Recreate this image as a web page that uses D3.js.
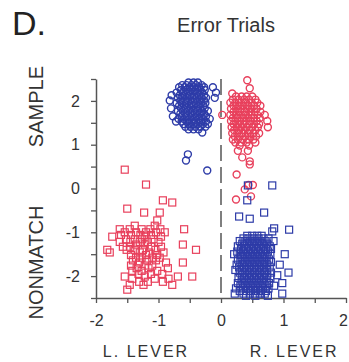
<!DOCTYPE html>
<html>
<head>
<meta charset="utf-8">
<script src="https://cdn.jsdelivr.net/npm/d3@7"></script>
<style>
  body { margin: 0; background: #fff; }
  text { font-family: "Liberation Sans", Arial, sans-serif; }
</style>
</head>
<body>
<div id="chart"></div>
<script>
// panel text
var panelLabel = "D.";
var panelTitle = "Error Trials";
var leverLabels = ["L. LEVER", "R. LEVER"];
var phaseLabels = ["SAMPLE", "NONMATCH"];

// ticks
var xTicks = [-2, -1.5, -1, -0.5, 0, 0.5, 1, 1.5, 2];
var yTicks = [-2.5, -2, -1.5, -1, -0.5, 0, 0.5, 1, 1.5, 2, 2.5];

// sample phase, left lever (blue circles) - rows: [y, [x, x, ...]]
var blueCircleRows = [
  [2.42, [-0.52, -0.44, -0.37]],
  [2.36, [-0.62, -0.55, -0.47, -0.4, -0.31]],
  [2.31, [-0.67, -0.58, -0.5, -0.43, -0.35, -0.27, -0.13]],
  [2.25, [-0.64, -0.56, -0.48, -0.41, -0.33, -0.26]],
  [2.19, [-0.71, -0.61, -0.53, -0.45, -0.38, -0.3, -0.08]],
  [2.13, [-0.79, -0.66, -0.58, -0.5, -0.43, -0.35, -0.27]],
  [2.07, [-0.69, -0.62, -0.54, -0.46, -0.39, -0.31, -0.24, -0.1]],
  [2.01, [-0.82, -0.65, -0.57, -0.49, -0.42, -0.34, -0.27]],
  [1.95, [-0.71, -0.63, -0.55, -0.47, -0.4, -0.32, -0.25]],
  [1.89, [-0.67, -0.59, -0.51, -0.44, -0.36, -0.28]],
  [1.83, [-0.8, -0.64, -0.56, -0.48, -0.4, -0.33, -0.26]],
  [1.77, [-0.69, -0.61, -0.53, -0.45, -0.38, -0.3, -0.21]],
  [1.71, [-0.65, -0.57, -0.49, -0.42, -0.34, -0.27]],
  [1.65, [-0.77, -0.63, -0.55, -0.47, -0.39, -0.31, -0.24]],
  [1.59, [-0.68, -0.6, -0.52, -0.44, -0.36, -0.29, -0.18]],
  [1.53, [-0.72, -0.63, -0.55, -0.47, -0.4, -0.32, -0.24]],
  [1.47, [-0.6, -0.52, -0.44, -0.37, -0.29, -0.21]],
  [1.41, [-0.57, -0.49, -0.41, -0.33, -0.25]],
  [1.35, [-0.52, -0.44, -0.36]],
  [1.28, [-0.3]],
  [0.78, [-0.53]],
  [0.64, [-0.56]],
  [0.41, [-0.22]]
];

// sample phase, right lever (red circles)
var redCircleRows = [
  [2.47, [0.42]],
  [2.29, [0.46]],
  [2.17, [0.18]],
  [2.1, [0.24, 0.33, 0.41, 0.5]],
  [2.03, [0.19, 0.28, 0.37, 0.45, 0.55]],
  [1.96, [0.15, 0.23, 0.32, 0.4, 0.49, 0.58]],
  [1.89, [0.2, 0.28, 0.36, 0.44, 0.53, 0.63]],
  [1.82, [0.16, 0.24, 0.32, 0.41, 0.49, 0.57]],
  [1.75, [0.2, 0.28, 0.37, 0.45, 0.54, 0.63]],
  [1.68, [0.02, 0.15, 0.24, 0.32, 0.4, 0.49, 0.58, 0.7]],
  [1.61, [0.19, 0.27, 0.36, 0.44, 0.53, 0.62]],
  [1.54, [0.16, 0.23, 0.31, 0.4, 0.48, 0.57, 0.74]],
  [1.47, [0.2, 0.28, 0.36, 0.45, 0.53, 0.61]],
  [1.4, [0.17, 0.25, 0.33, 0.41, 0.5, 0.59, 0.75]],
  [1.33, [0.21, 0.29, 0.38, 0.46, 0.55]],
  [1.26, [0.18, 0.26, 0.34, 0.43, 0.52, 0.61]],
  [1.19, [0.22, 0.3, 0.39, 0.47, 0.56]],
  [1.12, [0.19, 0.27, 0.35, 0.44, 0.52]],
  [1.05, [0.23, 0.32, 0.41, 0.55]],
  [0.98, [0.3, 0.45]],
  [0.86, [0.27, 0.43]],
  [0.71, [0.34]],
  [0.62, [0.46]],
  [0.55, [0.46]],
  [0.32, [0.25]],
  [0.08, [0.44, 0.51]],
  [-0.02, [0.38]],
  [-0.18, [0.48]],
  [-0.25, [0.24]]
];

// nonmatch phase, left lever (red squares)
var redSquareRows = [
  [0.43, [-1.54]],
  [0.09, [-1.2]],
  [-0.27, [-0.93]],
  [-0.32, [-0.78]],
  [-0.46, [-1.5]],
  [-0.55, [-1.23, -0.98]],
  [-0.73, [-1.02]],
  [-0.85, [-1.38, -1.06]],
  [-0.93, [-1.62, -1.46, -1.27, -1.13, -0.97, -0.59]],
  [-1.0, [-1.54, -1.36, -1.2, -1.04, -0.9]],
  [-1.06, [-1.6, -1.44, -1.29, -1.12]],
  [-1.1, [-1.74, -1.22, -0.96]],
  [-1.16, [-1.52, -1.38, -1.26, -1.08]],
  [-1.22, [-1.62, -1.45, -1.3, -1.17, -1.0]],
  [-1.28, [-1.36, -1.22, -0.61]],
  [-1.33, [-1.57, -1.45, -1.12, -0.96]],
  [-1.4, [-1.82, -1.51, -1.38, -1.25, -1.05, -0.4]],
  [-1.46, [-1.78, -1.3, -1.15, -0.92]],
  [-1.52, [-1.44, -1.2, -1.02]],
  [-1.58, [-1.36, -1.27, -1.1, -0.98]],
  [-1.64, [-1.41, -1.18, -1.04]],
  [-1.69, [-1.31, -0.88, -0.61]],
  [-1.76, [-1.44, -1.22, -1.1]],
  [-1.82, [-1.35, -1.16, -0.85]],
  [-1.88, [-1.42, -1.27, -1.02]],
  [-1.95, [-1.32, -1.12, -0.94]],
  [-2.01, [-1.54, -1.22, -0.69, -0.46]],
  [-2.06, [-1.42, -1.06, -0.84]],
  [-2.13, [-1.31, -1.17, -0.93]],
  [-2.2, [-1.46, -1.24, -0.78]],
  [-2.31, [-1.5]]
];

// nonmatch phase, right lever (blue squares)
var blueSquareRows = [
  [0.07, [0.43, 0.82]],
  [-0.27, [0.42]],
  [-0.55, [0.69]],
  [-0.64, [0.29]],
  [-0.69, [0.46]],
  [-0.91, [0.85]],
  [-0.94, [1.09]],
  [-0.98, [0.82]],
  [-1.08, [0.42, 0.5, 0.58, 0.65]],
  [-1.14, [0.36, 0.44, 0.52, 0.6, 0.68, 0.76]],
  [-1.2, [0.3, 0.39, 0.47, 0.55, 0.63, 0.71, 0.84]],
  [-1.26, [0.34, 0.42, 0.5, 0.58, 0.66, 0.74]],
  [-1.32, [0.27, 0.37, 0.45, 0.53, 0.61, 0.69, 0.78]],
  [-1.38, [0.32, 0.4, 0.48, 0.56, 0.64, 0.72, 0.8]],
  [-1.44, [0.26, 0.35, 0.43, 0.51, 0.59, 0.67, 0.75]],
  [-1.5, [0.21, 0.3, 0.38, 0.46, 0.54, 0.62, 0.7, 0.79, 1.02]],
  [-1.56, [0.33, 0.41, 0.49, 0.57, 0.65, 0.73]],
  [-1.62, [0.27, 0.36, 0.44, 0.52, 0.6, 0.68, 0.77]],
  [-1.68, [0.31, 0.39, 0.47, 0.55, 0.63, 0.71, 0.8]],
  [-1.74, [0.25, 0.34, 0.42, 0.5, 0.58, 0.66, 0.74, 0.94]],
  [-1.8, [0.29, 0.37, 0.45, 0.53, 0.61, 0.69, 0.78]],
  [-1.86, [0.23, 0.33, 0.41, 0.49, 0.57, 0.65, 0.73]],
  [-1.92, [0.3, 0.38, 0.46, 0.54, 0.62, 0.7, 0.8, 1.08]],
  [-1.98, [0.34, 0.42, 0.5, 0.58, 0.66, 0.74, 0.9]],
  [-2.04, [0.28, 0.37, 0.45, 0.53, 0.61, 0.69, 0.79]],
  [-2.1, [0.33, 0.41, 0.49, 0.57, 0.65, 0.73]],
  [-2.16, [0.27, 0.36, 0.44, 0.52, 0.6, 0.68, 0.77, 0.98]],
  [-2.22, [0.31, 0.39, 0.47, 0.55, 0.63, 0.71, 0.85]],
  [-2.28, [0.24, 0.35, 0.43, 0.51, 0.59, 0.67, 0.76]],
  [-2.34, [0.3, 0.4, 0.48, 0.56, 0.64, 0.72]],
  [-2.4, [0.22, 0.36, 0.46, 0.54, 0.62, 0.7, 0.98]],
  [-2.45, [0.4, 0.55, 0.75]]
];

var blue = "#2e3ca8";
var red = "#e8405c";
var axisColor = "#555";
var textColor = "#333";

// turn rows into point list
function toPoints(rows) {
    var pts = [];
    rows.forEach(function(r) {
        r[1].forEach(function(x) { pts.push({x: x, y: r[0]}); });
    });
    return pts;
}

var width = 349, height = 362;
var svg = d3.select("#chart").append("svg")
    .attr("width", width)
    .attr("height", height);

var xScale = d3.scaleLinear().domain([-2, 2]).range([96, 346]);
var yScale = d3.scaleLinear().domain([-2.5, 2.5]).range([298, 79]);

// axes
var xAxis = d3.axisBottom(xScale)
    .tickValues(xTicks)
    .tickSize(5)
    .tickSizeOuter(0)
    .tickPadding(12)
    .tickFormat(function(d) { return Number.isInteger(d) ? String(d) : ""; });

var yAxis = d3.axisLeft(yScale)
    .tickValues(yTicks)
    .tickSize(5)
    .tickSizeOuter(0)
    .tickPadding(11)
    .tickFormat(function(d) { return Number.isInteger(d) ? String(d) : ""; });

var gx = svg.append("g").attr("transform", "translate(0," + yScale(-2.5) + ")").call(xAxis);
var gy = svg.append("g").attr("transform", "translate(" + xScale(-2) + ",0)").call(yAxis);

[gx, gy].forEach(function(g) {
    g.select(".domain").attr("stroke", axisColor).attr("stroke-width", 1.5);
    g.selectAll(".tick line").attr("stroke", axisColor).attr("stroke-width", 1.3);
    g.selectAll(".tick text")
        .attr("fill", textColor)
        .style("font-size", "16px")
        .style("font-family", "'Liberation Sans', Arial, sans-serif");
});
// last x label sits at the edge, nudge it in
gx.selectAll(".tick text").filter(function(d) { return d == 2; }).attr("dx", -3);

// dashed midline at 0
svg.append("line")
    .attr("x1", xScale(0)).attr("x2", xScale(0))
    .attr("y1", yScale(2.5)).attr("y2", yScale(-2.5))
    .attr("stroke", axisColor)
    .attr("stroke-width", 1.5)
    .attr("stroke-dasharray", "16,6");

// markers
function drawCircles(rows, color) {
    svg.append("g").selectAll("circle")
        .data(toPoints(rows))
        .enter()
        .append("circle")
        .attr("cx", function(d) { return xScale(d.x); })
        .attr("cy", function(d) { return yScale(d.y); })
        .attr("r", 3.5)
        .attr("fill", "none")
        .attr("stroke", color)
        .attr("stroke-width", 1.4);
}

function drawSquares(rows, color) {
    var s = 7;
    svg.append("g").selectAll("rect")
        .data(toPoints(rows))
        .enter()
        .append("rect")
        .attr("x", function(d) { return xScale(d.x) - s / 2; })
        .attr("y", function(d) { return yScale(d.y) - s / 2; })
        .attr("width", s)
        .attr("height", s)
        .attr("fill", "none")
        .attr("stroke", color)
        .attr("stroke-width", 1.2);
}

drawCircles(blueCircleRows, blue);
drawCircles(redCircleRows, red);
drawSquares(redSquareRows, red);
drawSquares(blueSquareRows, blue);

// labels
svg.append("text")
    .attr("x", 12).attr("y", 35)
    .attr("fill", "#222")
    .style("font-size", "34px")
    .text(panelLabel);

svg.append("text")
    .attr("x", 226).attr("y", 32)
    .attr("text-anchor", "middle")
    .attr("fill", textColor)
    .style("font-size", "20px")
    .text(panelTitle);

svg.selectAll(".lever")
    .data(leverLabels)
    .enter()
    .append("text")
    .attr("class", "lever")
    .attr("x", function(d, i) { return i == 0 ? xScale(-1.2) : xScale(1.17); })
    .attr("y", 357)
    .attr("text-anchor", "middle")
    .attr("fill", textColor)
    .style("font-size", "16px")
    .style("letter-spacing", "2px")
    .text(function(d) { return d; });

svg.selectAll(".phase")
    .data(phaseLabels)
    .enter()
    .append("text")
    .attr("class", "phase")
    .attr("transform", function(d, i) {
        var cy = i == 0 ? yScale(1.87) : yScale(-1.69);
        return "translate(43," + cy + ") rotate(-90)";
    })
    .attr("text-anchor", "middle")
    .attr("fill", textColor)
    .style("font-size", "20px")
    .text(function(d) { return d; });
</script>
</body>
</html>
